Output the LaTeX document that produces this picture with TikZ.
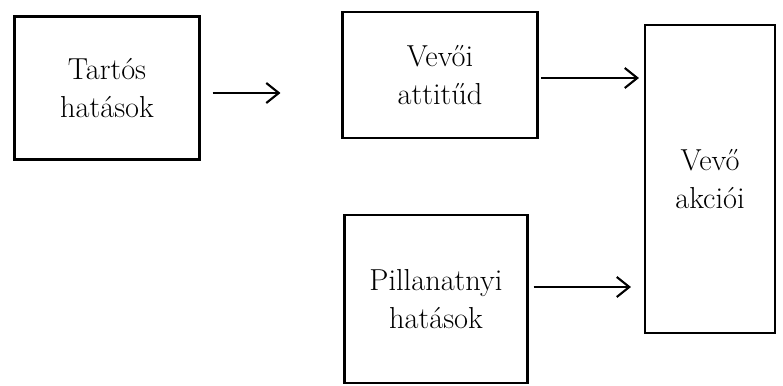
\documentclass[tikz,border=0pt]{standalone}
\usepackage{tikz}
\usetikzlibrary{arrows.meta,positioning}

\begin{document}
\begin{tikzpicture}[
    hatas/.style={rectangle, draw=black, line width=1.2pt, font=\LARGE,
        align=center, inner sep=0pt},
    arr/.style={-{Straight Barb[length=2.5mm,width=4mm]}, line width=1.2pt}
]
    \useasboundingbox (0,0) rectangle (15.66,-7.7);

    \node[hatas, minimum width=3.7cm, minimum height=2.86cm] (tartos) at (2.14,-1.76) {Tartós\\hatások};
    \node[hatas, minimum width=3.9cm, minimum height=2.52cm] (attitud) at (8.8,-1.5) {Vevői\\attitűd};
    \node[hatas, minimum width=3.66cm, minimum height=3.36cm] (pill) at (8.72,-5.98) {Pillanatnyi\\hatások};
    \node[hatas, minimum width=2.6cm, minimum height=6.16cm] (akcio) at (14.2,-3.58) {Vevő\\akciói};

    \draw[arr, shorten <=0.24cm, shorten >=1.22cm] ([yshift=-0.1cm]tartos.east) -- ([yshift=-0.1cm]tartos.east -| attitud.west);
    \draw[arr, shorten <=0.05cm, shorten >=0.1cm] ([yshift=-0.06cm]attitud.east) -- ([yshift=-0.06cm]attitud.east -| akcio.west);
    \draw[arr, shorten <=0.1cm, shorten >=0.26cm] ([yshift=0.24cm]pill.east) -- ([yshift=0.24cm]pill.east -| akcio.west);
\end{tikzpicture}
\end{document}
